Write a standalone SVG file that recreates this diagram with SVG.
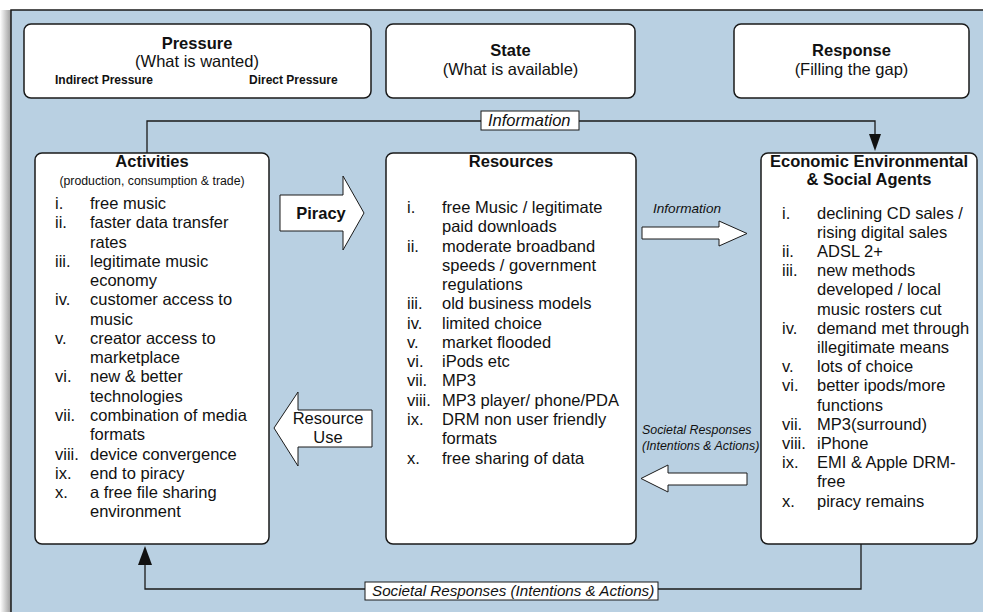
<svg xmlns="http://www.w3.org/2000/svg" width="983" height="612" viewBox="0 0 983 612">
<defs>
<linearGradient id="shadow" x1="0" y1="0" x2="1" y2="0">
<stop offset="0" stop-color="#ffffff"/>
<stop offset="1" stop-color="#9a9a9a"/>
</linearGradient>
<style>
text{font-family:"Liberation Sans",Arial,Helvetica,sans-serif;fill:#111;}
.box{fill:#fff;stroke:#1a1a1a;stroke-width:1.5;}
.arrow{fill:#fff;stroke:#1a1a1a;stroke-width:1;}
.line{fill:none;stroke:#1a1a1a;stroke-width:1.3;}
.head{fill:#111;stroke:none;}
.lbl{fill:#fff;stroke:#1a1a1a;stroke-width:1;}
.t{font-size:16.5px;font-weight:bold;text-anchor:middle;}
.s{font-size:16.5px;text-anchor:middle;}
.b12{font-size:12px;font-weight:bold;}
.li{font-size:16.5px;}
.it{font-style:italic;}
</style>
</defs>
<rect x="0" y="10" width="11" height="602" fill="url(#shadow)"/>
<rect x="11" y="10" width="990" height="620" fill="#b9d0e2" stroke="#1a1a1a" stroke-width="1.5"/>

<g id="pressure">
<rect class="box" x="24" y="24" width="347" height="74" rx="7"/>
<text class="t" x="197" y="49">Pressure</text>
<text class="s" x="197" y="67">(What is wanted)</text>
<text class="b12" x="55" y="84">Indirect Pressure</text>
<text class="b12" x="249" y="84">Direct Pressure</text>
</g>
<g id="state">
<rect class="box" x="386" y="24" width="249" height="74" rx="7"/>
<text class="t" x="510.5" y="56">State</text>
<text class="s" x="510.5" y="75">(What is available)</text>
</g>
<g id="response">
<rect class="box" x="734" y="24" width="235" height="74" rx="7"/>
<text class="t" x="851.5" y="56">Response</text>
<text class="s" x="851.5" y="75">(Filling the gap)</text>
</g>

<g id="connectors">
<polyline class="line" points="147,153 147,121 875,121 875,137"/>
<polygon class="head" points="869,134 881,134 875,151"/>
<rect class="lbl" x="481" y="111" width="98" height="19"/>
<text class="li it" x="488" y="125.5">Information</text>

<polyline class="line" points="861,544 861,589 145,589 145,560"/>
<polygon class="head" points="138,565 152,565 145,546"/>
<rect class="lbl" x="365" y="582" width="293" height="18"/>
<text class="it" x="372" y="596" style="font-size:15.2px">Societal Responses (Intentions &amp; Actions)</text>

<polygon class="arrow" points="280,195 343,195 343,176 364,213 343,250 343,231 280,231"/>
<text class="t" x="321" y="219">Piracy</text>

<polygon class="arrow" points="372,410 298,410 298,392 274,428 298,466 298,447 372,447"/>
<text class="s" x="328" y="424">Resource</text>
<text class="s" x="328" y="443">Use</text>

<polygon class="arrow" points="642,227 719,227 719,221 747,233.5 719,246 719,239 642,239"/>
<text class="it" x="653" y="213" style="font-size:13.6px">Information</text>

<polygon class="arrow" points="747,473 668,473 668,465 641,478.5 668,492 668,485 747,485"/>
<text class="it" x="642" y="434" style="font-size:12.4px">Societal Responses</text>
<text class="it" x="642" y="450" style="font-size:12.4px">(Intentions &amp; Actions)</text>
</g>

<g id="activities">
<rect class="box" x="35" y="153" width="234" height="391" rx="7"/>
<text class="t" x="152" y="167">Activities</text>
<text x="152" y="185" style="font-size:12.3px;text-anchor:middle">(production, consumption &amp; trade)</text>
<g class="li">
<text class="li" x="55" y="209">i.</text><text class="li" x="90" y="209">free music</text>
<text class="li" x="55" y="228.3">ii.</text><text class="li" x="90" y="228.3">faster data transfer</text>
<text class="li" x="90" y="247.5">rates</text>
<text class="li" x="55" y="266.8">iii.</text><text class="li" x="90" y="266.8">legitimate music</text>
<text class="li" x="90" y="286.1">economy</text>
<text class="li" x="55" y="305.4">iv.</text><text class="li" x="90" y="305.4">customer access to</text>
<text class="li" x="90" y="324.6">music</text>
<text class="li" x="55" y="343.9">v.</text><text class="li" x="90" y="343.9">creator access to</text>
<text class="li" x="90" y="363.2">marketplace</text>
<text class="li" x="55" y="382.4">vi.</text><text class="li" x="90" y="382.4">new &amp; better</text>
<text class="li" x="90" y="401.7">technologies</text>
<text class="li" x="55" y="421">vii.</text><text class="li" x="90" y="421">combination of media</text>
<text class="li" x="90" y="440.2">formats</text>
<text class="li" x="55" y="459.5">viii.</text><text class="li" x="90" y="459.5">device convergence</text>
<text class="li" x="55" y="478.8">ix.</text><text class="li" x="90" y="478.8">end to piracy</text>
<text class="li" x="55" y="498">x.</text><text class="li" x="90" y="498">a free file sharing</text>
<text class="li" x="90" y="517.3">environment</text>
</g>
</g>

<g id="resources">
<rect class="box" x="386" y="153" width="250" height="391" rx="7"/>
<text class="t" x="511" y="167">Resources</text>
<text class="li" x="407" y="213">i.</text><text class="li" x="442" y="213">free Music / legitimate</text>
<text class="li" x="442" y="232.3">paid downloads</text>
<text class="li" x="407" y="251.5">ii.</text><text class="li" x="442" y="251.5">moderate broadband</text>
<text class="li" x="442" y="270.8">speeds / government</text>
<text class="li" x="442" y="290.1">regulations</text>
<text class="li" x="407" y="309.4">iii.</text><text class="li" x="442" y="309.4">old business models</text>
<text class="li" x="407" y="328.6">iv.</text><text class="li" x="442" y="328.6">limited choice</text>
<text class="li" x="407" y="347.9">v.</text><text class="li" x="442" y="347.9">market flooded</text>
<text class="li" x="407" y="367.2">vi.</text><text class="li" x="442" y="367.2">iPods etc</text>
<text class="li" x="407" y="386.4">vii.</text><text class="li" x="442" y="386.4">MP3</text>
<text class="li" x="407" y="405.7">viii.</text><text class="li" x="442" y="405.7">MP3 player/ phone/PDA</text>
<text class="li" x="407" y="425">ix.</text><text class="li" x="442" y="425">DRM non user friendly</text>
<text class="li" x="442" y="444.2">formats</text>
<text class="li" x="407" y="463.5">x.</text><text class="li" x="442" y="463.5">free sharing of data</text>
</g>

<g id="agents">
<rect class="box" x="761" y="153" width="216" height="391" rx="7"/>
<text class="t" x="869" y="167">Economic Environmental</text>
<text class="t" x="869" y="185">&amp; Social Agents</text>
<text class="li" x="782" y="218.5">i.</text><text class="li" x="817" y="218.5">declining CD sales /</text>
<text class="li" x="817" y="237.7">rising digital sales</text>
<text class="li" x="782" y="256.9">ii.</text><text class="li" x="817" y="256.9">ADSL 2+</text>
<text class="li" x="782" y="276.1">iii.</text><text class="li" x="817" y="276.1">new methods</text>
<text class="li" x="817" y="295.3">developed / local</text>
<text class="li" x="817" y="314.5">music rosters cut</text>
<text class="li" x="782" y="333.7">iv.</text><text class="li" x="817" y="333.7">demand met through</text>
<text class="li" x="817" y="352.9">illegitimate means</text>
<text class="li" x="782" y="372.1">v.</text><text class="li" x="817" y="372.1">lots of choice</text>
<text class="li" x="782" y="391.3">vi.</text><text class="li" x="817" y="391.3">better ipods/more</text>
<text class="li" x="817" y="410.5">functions</text>
<text class="li" x="782" y="429.7">vii.</text><text class="li" x="817" y="429.7">MP3(surround)</text>
<text class="li" x="782" y="448.9">viii.</text><text class="li" x="817" y="448.9">iPhone</text>
<text class="li" x="782" y="468.1">ix.</text><text class="li" x="817" y="468.1">EMI &amp; Apple DRM-</text>
<text class="li" x="817" y="487.3">free</text>
<text class="li" x="782" y="506.5">x.</text><text class="li" x="817" y="506.5">piracy remains</text>
</g>
</svg>
